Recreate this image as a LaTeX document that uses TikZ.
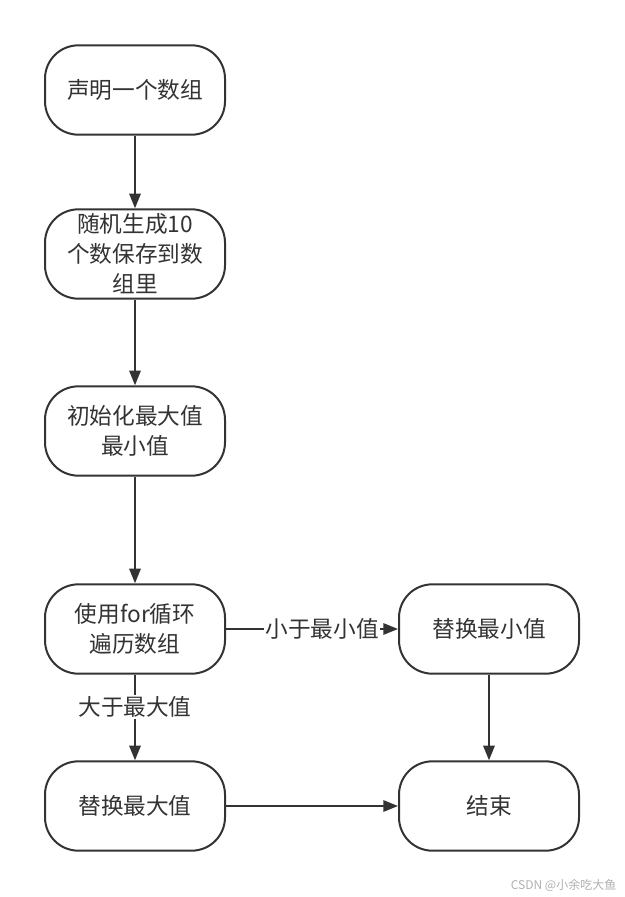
\documentclass[tikz,border=0pt]{standalone}
\usepackage{fontspec}
\setmainfont{Noto Sans CJK SC}
\usepackage{tikz}
\usetikzlibrary{arrows.meta}
\definecolor{flow-ink}{HTML}{333333}
\definecolor{flow-mark}{HTML}{B0B0B0}

\tikzset{
  stepbox/.style={draw=flow-ink, line width=1.5pt, fill=white, rounded corners=25pt,
    minimum width=135pt, minimum height=67pt, align=center, text=flow-ink,
    font=\fontsize{17}{22.5}\selectfont},
  flowline/.style={->, draw=flow-ink, line width=1.5pt},
  edgelabel/.style={fill=white, text=flow-ink, inner sep=1pt, font=\fontsize{17}{22.5}\selectfont}
}

\begin{document}
\begin{tikzpicture}[>={Triangle[length=11pt, width=8.5pt]}, x=0.75pt, y=-0.75pt]
  \useasboundingbox (0,0) rectangle (625,897);
  \node[stepbox] (declare) at (135,90) {声明一个数组};
  \node[stepbox] (random) at (135,254) {随机生成10\\个数保存到数\\组里};
  \node[stepbox] (init) at (135,431) {初始化最大值\\最小值};
  \node[stepbox] (loop) at (135,629) {使用for循环\\遍历数组};
  \node[stepbox] (setmin) at (489,629) {替换最小值};
  \node[stepbox] (setmax) at (135,806) {替换最大值};
  \node[stepbox] (finish) at (489,806) {结束};
  \draw[flowline] (declare) -- (random);
  \draw[flowline] (random) -- (init);
  \draw[flowline] (init) -- (loop);
  \draw[flowline] (loop) -- node[edgelabel, pos=0.56] {小于最小值} (setmin);
  \draw[flowline] (loop) -- node[edgelabel, pos=0.38] {大于最大值} (setmax);
  \draw[flowline] (setmin) -- (finish);
  \draw[flowline] (setmax) -- (finish);
  \node[text=flow-mark, anchor=east, font=\fontsize{9}{11}\selectfont] (mark) at (621,885) {CSDN @小余吃大鱼};
\end{tikzpicture}
\end{document}
